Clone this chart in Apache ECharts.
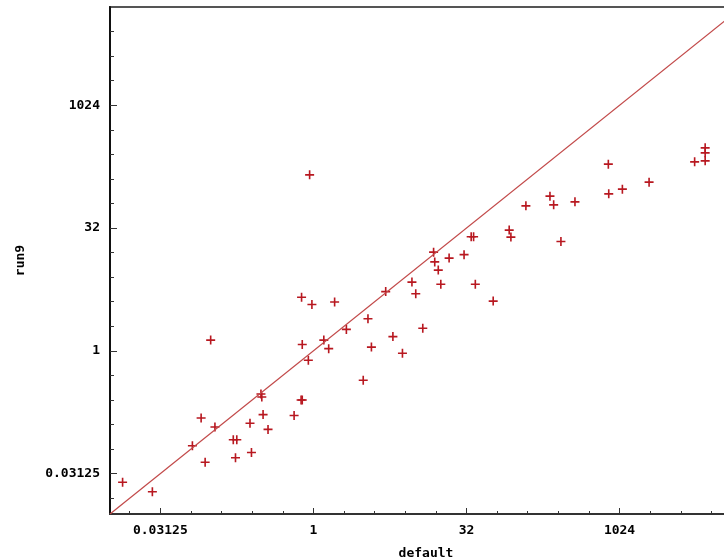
<!DOCTYPE html>
<html>
<head>
<meta charset="utf-8">
<script src="https://cdn.jsdelivr.net/npm/echarts@6/dist/echarts.min.js"></script>
<style>html,body{margin:0;padding:0;background:#fff;}#chart{width:724px;height:559px;}</style>
</head>
<body>
<div id="chart"></div>
<script>
// x values ("default") and y values ("run9")
var defaultVals = [0.0133,0.0261,0.0646,0.0787,0.0862,0.1076,0.163,0.1765,0.1714,0.238,
  0.246,0.305,0.311,0.320,0.358,0.646,0.757,0.777,0.0977,0.765,
  0.967,1.617,5.14,3.44,2.11,1.266,0.777,1.414,3.72,0.892,
  3.09,6.05,7.51,11.9,9.31,10.15,15.2,15.6,16.9,17.9,
  21.6,30.3,35.6,37.6,39.1,58.6,84.2,87.5,122.9,211.9,
  230.4,373.2,271.6,794.6,801.8,1091.9,1998.8,5607,7116,7116,
  7116,0.918];
var run9Vals = [0.0245,0.01875,0.0686,0.150,0.0431,0.1167,0.0813,0.0813,0.0489,0.1295,
  0.0567,0.296,0.2715,0.1655,0.1088,0.161,0.2496,0.2496,1.354,4.53,
  3.70,3.97,5.32,2.47,1.831,1.354,1.196,1.063,1.112,0.766,
  0.436,1.495,0.933,1.889,6.96,5.0,16.2,12.3,9.76,6.54,
  13.7,15.1,25.0,25.0,6.54,4.07,30.2,24.8,59.9,78.7,
  61.6,67.0,21.9,194.1,84.0,95.9,116.8,207.1,307.4,267.1,
  213.0,143.5];
// reference line y = x
var diagVals = [0.01, 16384];
// axis range and ticks (powers of two)
var axisMin = 0.01, axisMax = 16384;
var minorExps = [-6,-5,-4,-3,-2,-1,0,1,2,3,4,5,6,7,8,9,10,11,12,13];
var majorExps = [-5,0,5,10];
var tickLabels = ['0.03125','1','32','1024'];

var chart = echarts.init(document.getElementById('chart'), null, {renderer:'canvas'});
var pts = defaultVals.map(function(v,i){return [v, run9Vals[i]];});
var diag = diagVals.map(function(v){return [v, v];});
var lmin = Math.log2(axisMin), lmax = Math.log2(axisMax);
var labelFont = {fontFamily:'DejaVu Sans Mono', fontWeight:'bold', fontSize:13, color:'#000'};
function fmt(v){ var i = majorExps.indexOf(Math.round(v)); return i>=0 ? tickLabels[i] : ''; }
function tickAxis(extra){
  return Object.assign({type:'value', min:lmin, max:lmax, axisLine:{show:false, onZero:false}, splitLine:{show:false},
    axisLabel:{show:false}, axisTick:{show:false}}, extra);
}
var cross = 'path://M0,4.1L10,4.1L10,5.9L0,5.9Z M4.1,0L5.9,0L5.9,10L4.1,10Z';
chart.setOption({
  animation:false,
  grid:{left:110, top:7, width:632, height:507, outerBoundsMode:'none', containLabel:false,
        show:true, borderColor:'#555', borderWidth:2, backgroundColor:'transparent'},
  xAxis:[
    {type:'log', logBase:2, min:axisMin, max:axisMax, position:'bottom',
     axisLine:{show:true, onZero:false, lineStyle:{color:'#333', width:2}}, axisTick:{show:false}, axisLabel:{show:false}, splitLine:{show:false},
     name:'default', nameLocation:'middle', nameGap:33,
     nameTextStyle:{fontFamily:'DejaVu Sans Mono', fontWeight:'bold', fontSize:13, color:'#000'}},
    tickAxis({position:'bottom', axisTick:{show:true, inside:true, length:3, customValues:minorExps, lineStyle:{color:'#333'}}}),
    tickAxis({position:'bottom', axisTick:{show:true, inside:true, length:6, customValues:majorExps, lineStyle:{color:'#333'}},
      axisLabel:Object.assign({show:true, margin:10, customValues:majorExps, formatter:fmt}, labelFont)})
  ],
  yAxis:[
    {type:'log', logBase:2, min:axisMin, max:axisMax, position:'left',
     axisLine:{show:true, onZero:false, lineStyle:{color:'#111', width:2}}, axisTick:{show:false}, axisLabel:{show:false}, splitLine:{show:false},
     name:'run9', nameLocation:'middle', nameRotate:90, nameGap:83,
     nameTextStyle:{fontFamily:'DejaVu Sans Mono', fontWeight:'bold', fontSize:13, color:'#000'}},
    tickAxis({position:'left', axisTick:{show:true, inside:true, length:4, customValues:minorExps, lineStyle:{color:'#333'}}}),
    tickAxis({position:'left', axisTick:{show:true, inside:true, length:7, customValues:majorExps, lineStyle:{color:'#333'}},
      axisLabel:Object.assign({show:true, margin:10, customValues:majorExps, formatter:fmt}, labelFont)})
  ],
  series:[
    {type:'line', xAxisIndex:0, yAxisIndex:0, data:diag, symbol:'none', silent:true,
     lineStyle:{color:'#c24a4a', width:1.2}},
    {type:'scatter', xAxisIndex:0, yAxisIndex:0, data:pts, symbol:cross, symbolSize:9,
     itemStyle:{color:'#b81820', opacity:1}}
  ]
});
</script>
</body>
</html>
